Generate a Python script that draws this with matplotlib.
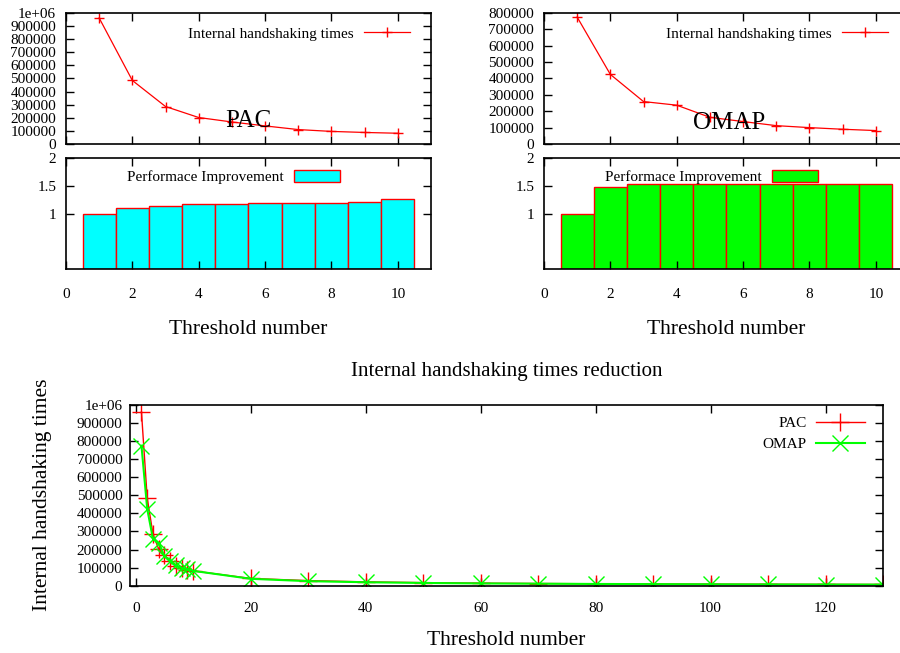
"""Threshold number vs. internal handshaking times (PAC / OMAP)."""

import matplotlib
matplotlib.use("Agg")
import matplotlib.pyplot as plt

plt.rcParams["font.family"] = ["Liberation Serif", "DejaVu Serif"]

# --- data ------------------------------------------------------------------
thresholds = [1, 2, 3, 4, 5, 6, 7, 8, 9, 10]
pac_times = [962000, 485000, 286000, 202000, 168000, 138000, 110000, 96000, 88000, 82000]
omap_times = [775000, 425000, 259000, 237000, 163000, 137000, 112000, 100000, 90000, 82000]
pac_improve = [1.0, 1.096, 1.13, 1.17, 1.18, 1.19, 1.195, 1.195, 1.205, 1.27]
omap_improve = [1.0, 1.49, 1.53, 1.54, 1.54, 1.54, 1.54, 1.54, 1.54, 1.54]

thresholds_long = thresholds + [20, 30, 40, 50, 60, 70, 80, 90, 100, 110, 120, 130]
pac_times_long = pac_times + [40000, 28000, 21000, 17000, 14000, 12000,
                              10500, 9500, 8500, 7800, 7200, 6600]
omap_times_long = omap_times + [38000, 25000, 19000, 15000, 12500, 11000,
                                9500, 8500, 7700, 7000, 6400, 5900]

RED = "#ff0000"
GREEN = "#00ff00"
CYAN = "#00ffff"
FS = 11


def style_axes(ax, pad=7):
    ax.tick_params(direction="in", length=6, width=1, top=True, right=True,
                   labelsize=FS, pad=pad)
    for sp in ax.spines.values():
        sp.set_linewidth(1.2)


def top_pair(fig, left, times, improve, bar_color, name, yticks, ymax, label_xy):
    w = 0.4056
    ax_line = fig.add_axes([left, 0.7795, w, 0.2006])
    ax_bar = fig.add_axes([left, 0.588, w, 0.1696])

    ax_line.plot(thresholds, times, color=RED, lw=0.9, marker="+", ms=7, mew=1,
                 label="Internal handshaking times")
    ax_line.set_xlim(0, 11)
    ax_line.set_ylim(0, ymax)
    ax_line.set_xticks(range(0, 12, 2))
    ax_line.set_xticklabels([])
    ax_line.set_yticks(yticks)
    ax_line.set_yticklabels([("1e+06" if v == 1000000 else str(v)) for v in yticks])
    style_axes(ax_line)
    ax_line.legend(loc="center right", bbox_to_anchor=(0.942, 0.84), frameon=False,
                   markerfirst=False, fontsize=FS, handlelength=3.0,
                   handletextpad=0.7, borderaxespad=0, borderpad=0)
    ax_line.text(label_xy[0], label_xy[1], name, fontsize=18, ha="left", va="center")

    ax_bar.bar(thresholds, improve, width=1.0, color=bar_color, edgecolor=RED,
               lw=1, label="Performace Improvement")
    ax_bar.set_xlim(0, 11)
    ax_bar.set_ylim(0, 2)
    ax_bar.set_xticks(range(0, 12, 2))
    ax_bar.set_yticks([1, 1.5, 2])
    ax_bar.set_yticklabels(["1", "1.5", "2"])
    style_axes(ax_bar)
    ax_bar.tick_params(axis="x", pad=13.5)
    ax_bar.legend(loc="center right", bbox_to_anchor=(0.75, 0.83), frameon=False,
                  markerfirst=False, fontsize=FS, handlelength=3.0, handleheight=0.8,
                  handletextpad=0.7, borderaxespad=0, borderpad=0)

    fig.text(left + w * 0.5, 0.495, "Threshold number", fontsize=15.5,
             ha="center", va="center")


fig = plt.figure(figsize=(9, 6.53), dpi=100)

top_pair(fig, 0.0733, pac_times, pac_improve, CYAN, "PAC",
         list(range(0, 1000001, 100000)), 1000000, (4.8, 175000))
top_pair(fig, 0.6044, omap_times, omap_improve, GREEN, "OMAP",
         list(range(0, 800001, 100000)), 800000, (4.5, 128000))

# --- bottom overview plot ---------------------------------------------------
ax = fig.add_axes([0.1444, 0.1031, 0.8367, 0.2767])
ax.plot(thresholds_long, pac_times_long, color=RED, lw=1, marker="+", ms=13, mew=1,
        label="PAC")
ax.plot(thresholds_long, omap_times_long, color=GREEN, lw=1.5, marker="x", ms=11,
        mew=1, label="OMAP")
ax.set_xlim(-1, 130)
ax.set_ylim(0, 1000000)
ax.set_xticks(range(0, 121, 20))
yt = list(range(0, 1000001, 100000))
ax.set_yticks(yt)
ax.set_yticklabels([("1e+06" if v == 1000000 else str(v)) for v in yt])
style_axes(ax, pad=5.5)
ax.tick_params(axis="x", pad=12)
ax.legend(loc="center right", bbox_to_anchor=(0.976, 0.84), frameon=False,
          markerfirst=False, fontsize=FS, handlelength=3.2, handletextpad=0.6,
          labelspacing=0.45, borderaxespad=0, borderpad=0)
ax.set_title("Internal handshaking times reduction", fontsize=15, pad=21)
ax.set_xlabel("Threshold number", fontsize=15.5, labelpad=11)
fig.text(0.047, 0.242, "Internal handshaking times", fontsize=15.5,
         rotation=90, ha="center", va="center")

fig.savefig("out.png", dpi=100)
